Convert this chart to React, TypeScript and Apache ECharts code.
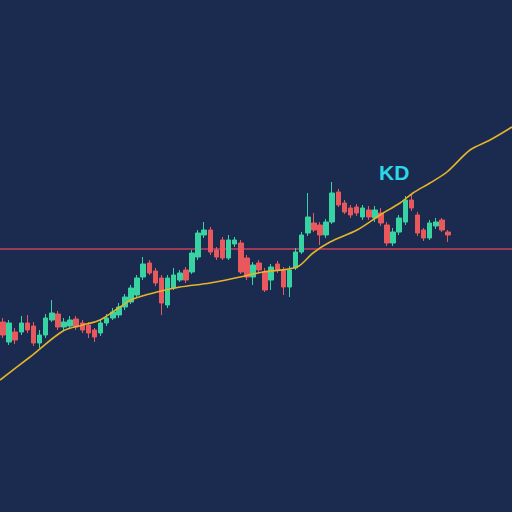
import React, { useEffect, useRef } from "react";
import * as echarts from "echarts";

// candle values: [open, close, low, high]
const candles: number[][] = [
  [190, 177, 174, 194], [170, 189, 167, 192], [180, 172, 168, 184], [180, 189, 177, 196],
  [189, 182, 179, 197], [186, 169, 166, 190], [169, 177, 164, 182], [177, 194, 174, 198],
  [192, 199, 190, 212], [198, 185, 182, 201], [185, 190, 182, 194], [186, 192, 183, 196],
  [193, 185, 182, 196], [189, 182, 179, 192], [187, 179, 174, 190], [182, 175, 170, 184],
  [179, 189, 176, 192], [189, 194, 186, 198], [194, 200, 192, 204], [197, 205, 194, 209],
  [205, 215, 202, 218], [210, 224, 208, 227], [217, 234, 215, 237], [235, 248, 232, 255],
  [249, 239, 237, 252], [241, 229, 226, 244], [234, 209, 197, 237], [207, 234, 204, 237],
  [224, 237, 222, 244], [232, 239, 230, 242], [242, 232, 229, 245], [240, 259, 238, 262],
  [255, 279, 252, 282], [277, 282, 274, 290], [282, 260, 257, 285], [262, 255, 252, 265],
  [272, 254, 252, 275], [254, 272, 252, 277], [268, 272, 265, 275], [269, 240, 238, 272],
  [254, 235, 232, 257], [235, 247, 227, 250], [249, 242, 239, 252], [240, 222, 220, 244],
  [232, 245, 222, 248], [248, 242, 239, 251], [242, 225, 217, 245], [225, 242, 215, 246],
  [244, 260, 242, 264], [260, 277, 258, 280], [279, 295, 276, 319], [289, 282, 280, 299],
  [287, 277, 267, 290], [277, 290, 274, 293], [290, 319, 288, 330], [320, 307, 305, 323],
  [309, 300, 298, 312], [304, 297, 294, 307], [305, 299, 296, 308], [295, 304, 292, 307],
  [302, 295, 292, 306], [294, 302, 290, 306], [299, 289, 286, 304], [287, 269, 266, 290],
  [269, 280, 266, 284], [280, 294, 277, 297], [290, 312, 287, 316], [312, 304, 301, 317],
  [297, 279, 276, 300], [282, 274, 271, 284], [274, 289, 272, 292], [286, 290, 283, 294],
  [292, 282, 280, 294], [280, 277, 270, 282],
];
const slotCount = 84;
const categories: string[] = Array.from({ length: slotCount }, (_, i) => String(i + 1));

// trend line points [x, value]
const trendX = [0, 30, 63, 83, 100, 120, 133, 157, 180, 210, 240, 263, 297, 313, 330, 357, 380, 400, 413, 430, 447, 470, 490, 512];
const trendY = [132, 155, 181, 187, 192, 205, 213, 220, 225, 229, 235, 240, 245, 259, 270, 282, 297, 309, 319, 329, 340, 362, 372, 385];

const resistanceLevel = 263;
const label = "KD";

export default function App() {
  const ref = useRef<HTMLDivElement>(null);
  useEffect(() => {
    if (!ref.current) return;
    const chart = echarts.init(ref.current, null, { renderer: "svg" });
    const up = "#38d3a2";
    const down = "#e8585c";
    chart.setOption({
      animation: false,
      backgroundColor: "#1b2a4f",
      grid: { left: 0, right: 0, top: 0, bottom: 0, containLabel: false },
      xAxis: [
        { type: "category", data: categories, show: false, boundaryGap: true },
        { type: "value", min: 0, max: 512, show: false },
      ],
      yAxis: { type: "value", min: 0, max: 512, show: false, splitLine: { show: false } },
      series: [
        {
          type: "candlestick",
          data: candles,
          barWidth: 5,
          itemStyle: { color: up, color0: down, borderColor: up, borderColor0: down, borderWidth: 1 },
          z: 3,
        },
        {
          type: "line",
          xAxisIndex: 1,
          data: [[0, resistanceLevel], [512, resistanceLevel]],
          showSymbol: false,
          lineStyle: { color: "#c8425a", width: 1.5 },
          z: 2,
        },
        {
          type: "line",
          xAxisIndex: 1,
          data: trendX.map((x, i) => [x, trendY[i]]),
          smooth: 0.3,
          showSymbol: false,
          lineStyle: { color: "#e6b42a", width: 1.6 },
          z: 5,
        },
      ],
      graphic: [
        {
          type: "text",
          left: 379,
          top: 162,
          style: {
            text: label,
            fill: "#2fd6e8",
            font: "bold 21px 'Liberation Sans', Arial, sans-serif",
          },
        },
      ],
    });
    return () => chart.dispose();
  }, []);
  return (
    <div
      ref={ref}
      style={{ position: "fixed", left: 0, top: 0, width: 512, height: 512 }}
    />
  );
}
